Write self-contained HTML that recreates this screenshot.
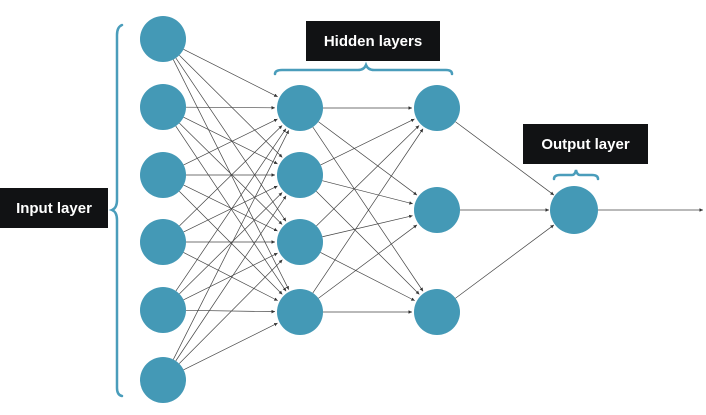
<!DOCTYPE html>
<html><head><meta charset="utf-8"><style>
html,body{margin:0;padding:0;background:#fff;width:706px;height:415px;overflow:hidden}
.lbl{position:absolute;background:#111214;color:#fff;font-family:"Liberation Sans",sans-serif;font-size:15px;font-weight:bold;display:flex;align-items:center;justify-content:center}
</style></head><body>
<svg id="s" width="706" height="415" style="position:absolute;left:0;top:0">
<defs><marker id="a" markerWidth="6" markerHeight="6" refX="5" refY="3" orient="auto"><path d="M0,0.5 L5,3 L0,5.5z" fill="#333"/></marker></defs>
<g id="L" stroke="#444" stroke-width="0.7" fill="none"></g>
<g fill="none" stroke="#4a9dbb" stroke-width="2.5" stroke-linecap="round">
<path d="M122,25 Q117,27 117,35 L117,200 Q117,208 112,210 Q117,212 117,220 L117,388 Q117,395 122,396"/>
<path d="M275,74 Q275,70 282,70 L358,70 Q364,70 366,65 Q368,70 374,70 L446,70 Q452,70 452,74"/>
<path d="M554,179 Q554,175 560,175 L572,175 Q575,175 576,170 Q577,175 580,175 L592,175 Q598,175 598,179"/>
</g>
<g id="N" fill="#4499b6"></g>
</svg>
<div class="lbl" style="left:0;top:188px;width:108px;height:40px">Input layer</div>
<div class="lbl" style="left:306px;top:21px;width:134px;height:40px">Hidden layers</div>
<div class="lbl" style="left:523px;top:124px;width:125px;height:40px">Output layer</div>
<script>
var layers=[[163,[39,107,175,242,310,380]],[300,[108,175,242,312]],[437,[108,210,312]],[574,[210]]];
var L=document.getElementById('L'),N=document.getElementById('N'),ns='http://www.w3.org/2000/svg',r=23;
function ln(x1,y1,x2,y2){var dx=x2-x1,dy=y2-y1,d=Math.hypot(dx,dy);var e=document.createElementNS(ns,'line');
e.setAttribute('x1',x1+dx/d*r);e.setAttribute('y1',y1+dy/d*r);e.setAttribute('x2',x2-dx/d*(r+2));e.setAttribute('y2',y2-dy/d*(r+2));e.setAttribute('marker-end','url(#a)');L.appendChild(e);}
for(var i=0;i<3;i++){var A=layers[i],B=layers[i+1];A[1].forEach(function(y1){B[1].forEach(function(y2){ln(A[0],y1,B[0],y2);});});}
var e=document.createElementNS(ns,'line');e.setAttribute('x1',597);e.setAttribute('y1',210);e.setAttribute('x2',703);e.setAttribute('y2',210);e.setAttribute('marker-end','url(#a)');L.appendChild(e);
layers.forEach(function(l){l[1].forEach(function(y){var c=document.createElementNS(ns,'circle');c.setAttribute('cx',l[0]);c.setAttribute('cy',y);c.setAttribute('r',l[0]==574?24:23);N.appendChild(c);});});
</script>
</body></html>
